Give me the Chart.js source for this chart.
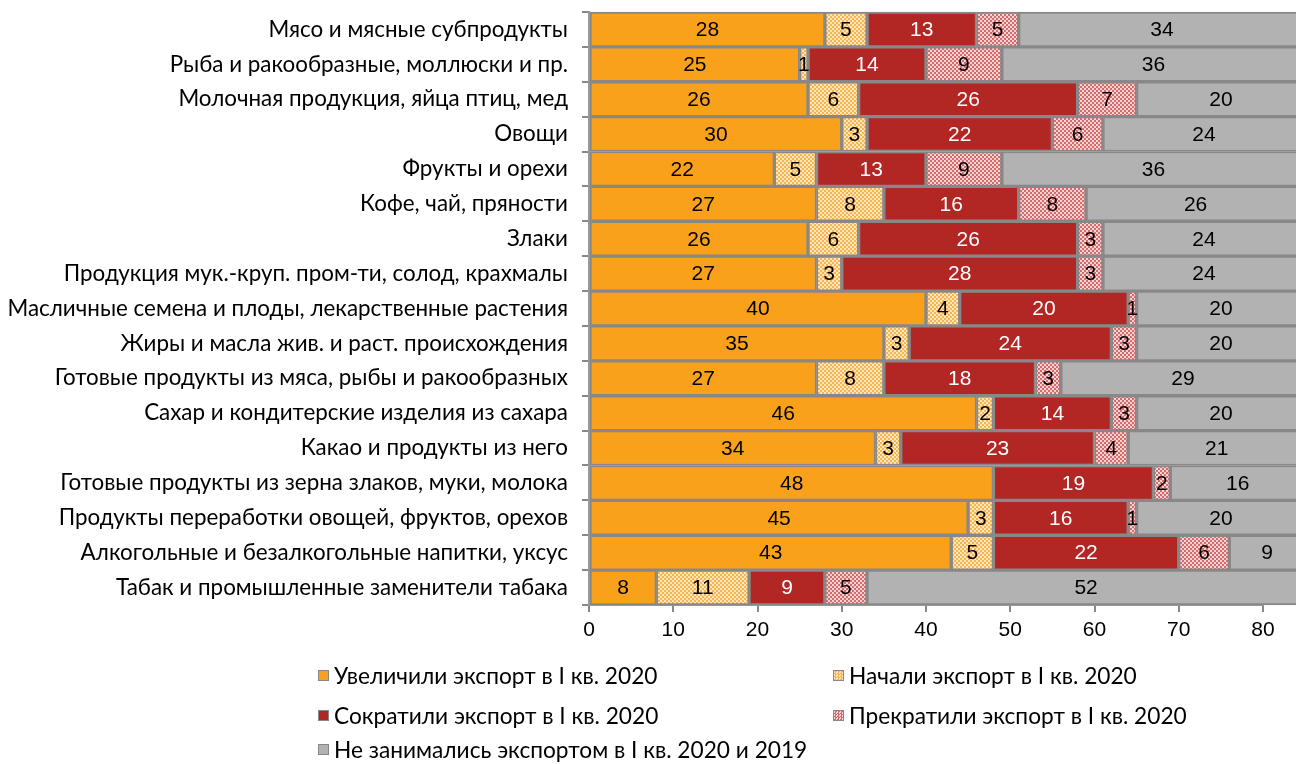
<!DOCTYPE html>
<html>
<head>
<meta charset="utf-8">
<script src="https://cdn.jsdelivr.net/npm/chart.js@4"></script>
<style>
  body { margin: 0; background: #fff; }
  #wrap { position: relative; width: 1296px; height: 764px; }
  #legend { position: absolute; left: 0; top: 0; width: 1296px; height: 764px; pointer-events: none;
            font-family: Lato, sans-serif; font-size: 22.7px; color: #000; }
  .item { position: absolute; display: flex; align-items: center; white-space: nowrap; }
  .box { width: 9px; height: 9px; border: 1px solid #888; margin-right: 5px; }
</style>
</head>
<body>
<div id="wrap">
  <canvas id="chart" width="1296" height="764"></canvas>
  <div id="legend"></div>
</div>
<script>
// categories (top to bottom)
const categories = [
  'Мясо и мясные субпродукты',
  'Рыба и ракообразные, моллюски и пр.',
  'Молочная продукция, яйца птиц, мед',
  'Овощи',
  'Фрукты и орехи',
  'Кофе, чай, пряности',
  'Злаки',
  'Продукция мук.-круп. пром-ти, солод, крахмалы',
  'Масличные семена и плоды, лекарственные растения',
  'Жиры и масла жив. и раст. происхождения',
  'Готовые продукты из мяса, рыбы и ракообразных',
  'Сахар и кондитерские изделия из сахара',
  'Какао и продукты из него',
  'Готовые продукты из зерна злаков, муки, молока',
  'Продукты переработки овощей, фруктов, орехов',
  'Алкогольные и безалкогольные напитки, уксус',
  'Табак и промышленные заменители табака'
];

const increased = [28, 25, 26, 30, 22, 27, 26, 27, 40, 35, 27, 46, 34, 48, 45, 43, 8];
const started   = [5, 1, 6, 3, 5, 8, 6, 3, 4, 3, 8, 2, 3, 0, 3, 5, 11];
const reduced   = [13, 14, 26, 22, 13, 16, 26, 28, 20, 24, 18, 14, 23, 19, 16, 22, 9];
const stopped   = [5, 9, 7, 6, 9, 8, 3, 3, 1, 3, 3, 3, 4, 2, 1, 6, 5];
const noExport  = [34, 36, 20, 24, 36, 26, 24, 24, 20, 20, 29, 20, 21, 16, 20, 9, 52];

const seriesNames = [
  'Увеличили экспорт в I кв. 2020',
  'Начали экспорт в I кв. 2020',
  'Сократили экспорт в I кв. 2020',
  'Прекратили экспорт в I кв. 2020',
  'Не занимались экспортом в I кв. 2020 и 2019'
];

const xTicks = [0, 10, 20, 30, 40, 50, 60, 70, 80];

// small checkered fills like the original
function makePattern(base, dot) {
  let c = document.createElement('canvas');
  c.width = 4; c.height = 4;
  let g = c.getContext('2d');
  g.fillStyle = base;
  g.fillRect(0, 0, 4, 4);
  g.fillStyle = dot;
  g.fillRect(0, 0, 2, 2);
  g.fillRect(2, 2, 2, 2);
  return g.createPattern(c, 'repeat');
}

const orange = '#F9A11B';
const lightOrange = makePattern('#F9B54C', '#FDE6C0');
const darkRed = '#B22624';
const pink = makePattern('#D96A6C', '#F6D4D4');
const grey = '#B2B2B2';

const fills = [orange, lightOrange, darkRed, pink, grey];
const swatch = ['#F9A11B', 'repeating-conic-gradient(#F9B54C 0 25%, #FDE6C0 0 50%) 0 0/3px 3px',
                '#B22624', 'repeating-conic-gradient(#D96A6C 0 25%, #F6D4D4 0 50%) 0 0/3px 3px', '#B2B2B2'];
const labelColors = ['#000', '#000', '#fff', '#000', '#000'];
const values = [increased, started, reduced, stopped, noExport];

// values inside each segment
const segmentLabels = {
  id: 'segmentLabels',
  afterDatasetsDraw(chart) {
    const ctx = chart.ctx;
    ctx.save();
    ctx.font = '21px "Liberation Sans", Arial, sans-serif';
    ctx.textAlign = 'center';
    ctx.textBaseline = 'middle';
    chart.data.datasets.forEach((ds, di) => {
      chart.getDatasetMeta(di).data.forEach((bar, i) => {
        let v = ds.data[i];
        if (!v) return;
        ctx.fillStyle = labelColors[di];
        ctx.fillText(String(v), (bar.x + bar.base) / 2, bar.y + 1);
      });
    });
    ctx.restore();
  }
};

let ctx = document.getElementById('chart').getContext('2d');
new Chart(ctx, {
  type: 'bar',
  data: {
    labels: categories,
    datasets: values.map((arr, i) => ({
      label: seriesNames[i],
      data: arr,
      backgroundColor: fills[i],
      borderColor: '#888888',
      borderWidth: 2,
      borderSkipped: false,
      barPercentage: 1,
      categoryPercentage: 1,
      clip: false
    }))
  },
  options: {
    indexAxis: 'y',
    responsive: false,
    animation: false,
    layout: { padding: { top: 12, right: 33, bottom: 114, left: 0 } },
    plugins: { legend: { display: false }, tooltip: { enabled: false } },
    scales: {
      x: {
        stacked: true,
        min: 0,
        max: 80,
        afterBuildTicks: (s) => { s.ticks = xTicks.map(v => ({ value: v })); },
        grid: { drawOnChartArea: false, color: '#888', tickLength: 7, lineWidth: 2 },
        border: { color: '#999', width: 2 },
        ticks: { color: '#000', padding: 6, font: { family: 'Liberation Sans', size: 21 } },
        afterFit: (s) => { s.height = 45; s.paddingLeft = 0; s.paddingRight = 0; }
      },
      y: {
        stacked: true,
        grid: { drawOnChartArea: false, color: '#888', tickLength: 7, lineWidth: 2 },
        border: { color: '#999', width: 2 },
        ticks: { color: '#000', padding: 14, font: { family: 'Lato', size: 22.4 } },
        afterFit: (s) => { s.width = 589; s.paddingTop = 0; s.paddingBottom = 0; }
      }
    }
  },
  plugins: [segmentLabels]
});

// legend in two columns, like the original
const legendPos = [[318, 676], [833, 676], [318, 716], [833, 716], [318, 750]];
let legend = document.getElementById('legend');
seriesNames.forEach((name, i) => {
  let item = document.createElement('div');
  item.className = 'item';
  item.style.left = legendPos[i][0] + 'px';
  item.style.top = (legendPos[i][1] - 14) + 'px';
  let box = document.createElement('span');
  box.className = 'box';
  box.style.background = swatch[i];
  let txt = document.createElement('span');
  txt.textContent = name;
  item.appendChild(box);
  item.appendChild(txt);
  legend.appendChild(item);
});
</script>
</body>
</html>
